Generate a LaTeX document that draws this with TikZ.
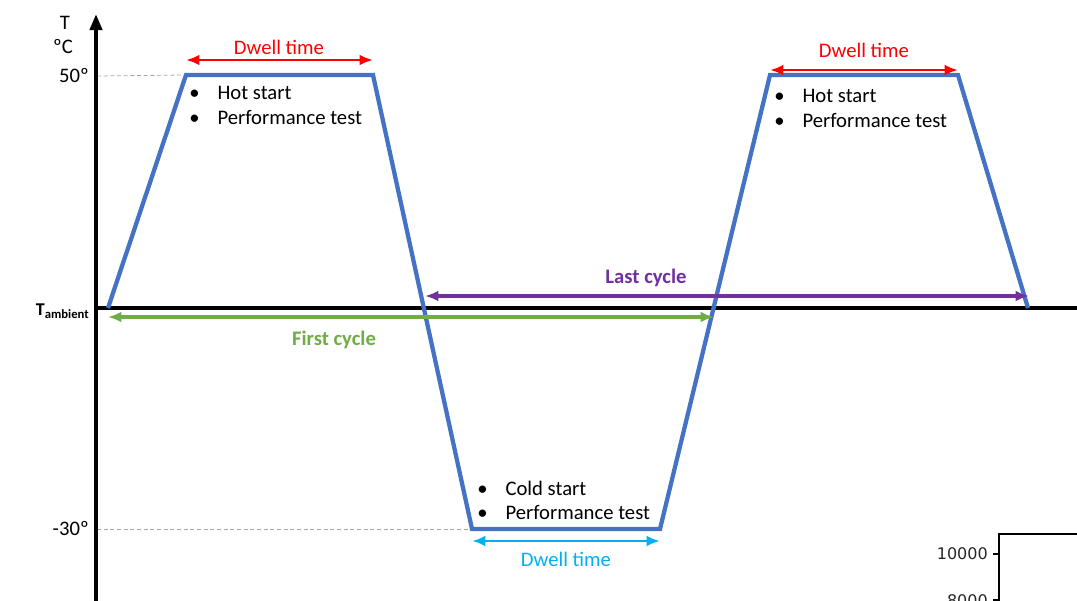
\documentclass[tikz,border=0pt]{standalone}
\usepackage{fontspec}
\setmainfont{Carlito}
\newfontfamily\dvs{DejaVu Sans}
\usetikzlibrary{arrows.meta}
\definecolor{trace}{HTML}{4472C4}
\definecolor{dwellred}{HTML}{FF0000}
\definecolor{dwellcyan}{HTML}{00B0F0}
\definecolor{lastpurple}{HTML}{7030A0}
\definecolor{firstgreen}{HTML}{70AD47}
\tikzset{
  lbl/.style={inner sep=0pt, font=\fontsize{15.5}{18}\selectfont},
  guide/.style={gray!70, densely dashed, line width=0.6pt},
  span/.style={line width=2.4pt, {Latex[length=10pt,width=8pt]}-{Latex[length=10pt,width=8pt]}},
  tracepath/.style={trace, line width=3.2pt, line join=miter},
}
\begin{document}
\begin{tikzpicture}[x=0.75pt,y=-0.75pt]
\useasboundingbox (0,0) rectangle (1077,600);
% trace points
\coordinate (p0) at (108,308);
\coordinate (p1) at (186,75);
\coordinate (p2) at (373,75);
\coordinate (p3) at (472,529);
\coordinate (p4) at (660,529);
\coordinate (p5) at (770,75);
\coordinate (p6) at (958,75);
\coordinate (p7) at (1028,308);
% axis ends
\coordinate (ybot) at (96,602);
\coordinate (ytop) at (96,14);
\coordinate (xl) at (96,308);
\coordinate (xr) at (1077,308);
% guides
\draw[guide] (97,76) -- (p1);
\draw[guide] (97,529) -- (p3);
% axes
\draw[line width=2.6pt] (xl) -- (xr);
\draw[line width=3pt, -{Triangle[length=12pt,width=9pt]}] (ybot) -- (ytop);
% axis labels
\node[lbl] (tlab) at (65,23) {T};
\node[lbl] (ulab) at (63,47) {ºC};
\node[lbl, anchor=east] (l50) at (89,76) {50º};
\node[lbl, anchor=east] (l30) at (89,529) {-30º};
\node[inner sep=0pt, anchor=east, font=\bfseries] (lamb) at (89,311) {\fontsize{13.5}{15}\selectfont T\raisebox{-0.35ex}{\fontsize{9.5}{10}\selectfont ambient}};
% trace
\draw[tracepath] (p0) -- (p1) -- (p2) -- (p3) -- (p4) -- (p5) -- (p6) -- (p7);
% dwell arrows
\coordinate (d1a) at (186,60); \coordinate (d1b) at (373,60);
\draw[span, dwellred, line width=2pt] (d1a) -- (d1b);
\node[lbl, text=dwellred] (d1t) at (279,47) {Dwell time};
\coordinate (d2a) at (770,70); \coordinate (d2b) at (958,70);
\draw[span, dwellred, line width=2pt] (d2a) -- (d2b);
\node[lbl, text=dwellred] (d2t) at (864,50) {Dwell time};
\coordinate (d3a) at (472,541); \coordinate (d3b) at (660,541);
\draw[span, dwellcyan, line width=2pt] (d3a) -- (d3b);
\node[lbl, text=dwellcyan] (d3t) at (566,559) {Dwell time};
% cycles
\coordinate (lca) at (425,296); \coordinate (lcb) at (1029,296);
\draw[span, lastpurple] (lca) -- (lcb);
\node[lbl, text=lastpurple, font=\fontsize{15.5}{18}\selectfont\bfseries] (lct) at (646,278) {Last cycle};
\coordinate (fca) at (108,317); \coordinate (fcb) at (714,317);
\draw[span, firstgreen] (fca) -- (fcb);
\node[lbl, text=firstgreen, font=\fontsize{15.5}{18}\selectfont\bfseries] (fct) at (334,340) {First cycle};
% bullets
\node[lbl, anchor=west] (b1a) at (189,93) {\textbullet\hspace{13.5pt}Hot start};
\node[lbl, anchor=west] (b1b) at (189,117) {\textbullet\hspace{13.5pt}Performance test};
\node[lbl, anchor=west] (b2a) at (774,96) {\textbullet\hspace{13.5pt}Hot start};
\node[lbl, anchor=west] (b2b) at (774,120) {\textbullet\hspace{13.5pt}Performance test};
\node[lbl, anchor=west] (b3a) at (477,488) {\textbullet\hspace{13.5pt}Cold start};
\node[lbl, anchor=west] (b3b) at (477,512) {\textbullet\hspace{13.5pt}Performance test};
% stray chart fragment
\coordinate (fr1) at (999,602); \coordinate (fr2) at (999,534); \coordinate (fr3) at (1078,534);
\draw[line width=0.9pt] (fr1) -- (fr2) -- (fr3);
\draw[line width=0.9pt] (993,554) -- (999,554);
\draw[line width=0.9pt] (993,600) -- (999,600);
\node[inner sep=0pt, anchor=east, font=\dvs\fontsize{12}{14}\selectfont, text=black!85] (t10k) at (988,554) {10000};
\node[inner sep=0pt, anchor=east, font=\dvs\fontsize{12}{14}\selectfont, text=black!85] (t8k) at (988,601) {8000};
\end{tikzpicture}
\end{document}
